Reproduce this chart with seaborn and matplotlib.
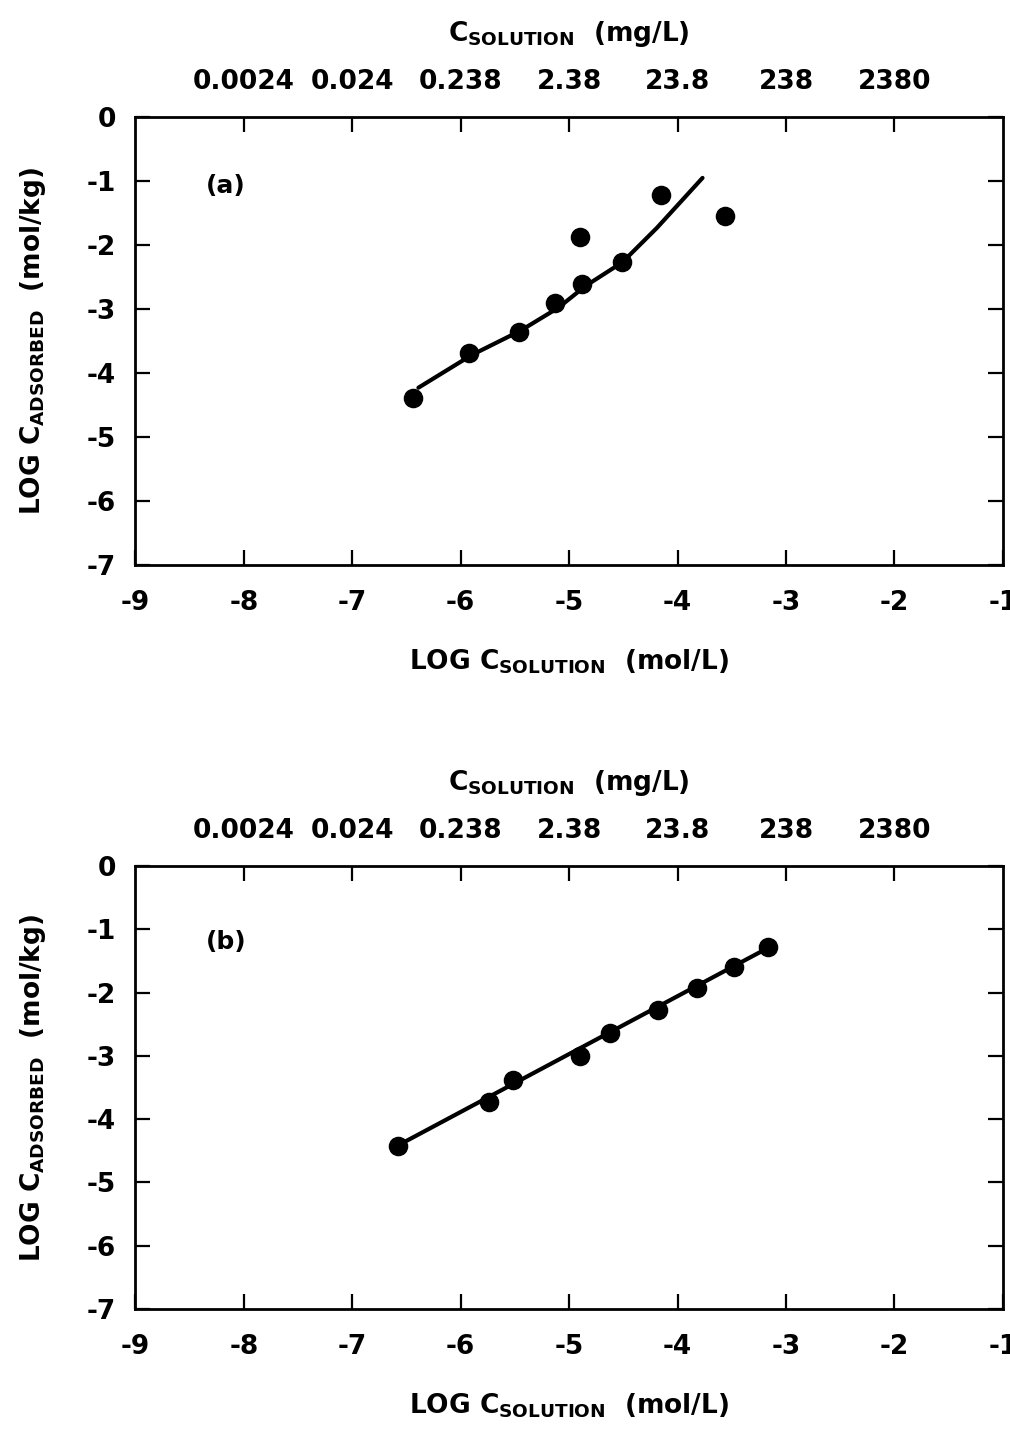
import matplotlib
matplotlib.use("Agg")
import matplotlib.pyplot as plt
import seaborn as sns
import pandas as pd

# ---- data ----
xticks = [-9, -8, -7, -6, -5, -4, -3, -2, -1]
yticks = [0, -1, -2, -3, -4, -5, -6, -7]
top_tick_pos = [-8, -7, -6, -5, -4, -3, -2]
top_tick_labels = ["0.0024", "0.024", "0.238", "2.38", "23.8", "238", "2380"]

a_x = [-6.44, -5.92, -5.46, -5.13, -4.88, -4.90, -4.51, -4.15, -3.56]
a_y = [-4.39, -3.69, -3.36, -2.91, -2.61, -1.875, -2.27, -1.22, -1.55]
fit_a_x = [-6.39, -5.90, -5.45, -5.10, -4.85, -4.51, -4.19, -3.77]
fit_a_y = [-4.23, -3.72, -3.34, -2.98, -2.64, -2.27, -1.73, -0.95]

b_x = [-6.58, -5.74, -5.52, -4.90, -4.62, -4.18, -3.82, -3.48, -3.17]
b_y = [-4.42, -3.73, -3.38, -3.00, -2.64, -2.27, -1.93, -1.60, -1.28]
fit_b_x = [-6.55, -3.15]
fit_b_y = [-4.39, -1.28]

sns.set_style("ticks")
plt.rcParams['font.family'] = ['DejaVu Sans']
plt.rcParams['font.weight'] = 'bold'
plt.rcParams['mathtext.fontset'] = 'dejavusans'
plt.rcParams['text.color'] = 'black'
plt.rcParams['axes.labelcolor'] = 'black'
plt.rcParams['xtick.color'] = 'black'
plt.rcParams['ytick.color'] = 'black'

fig = plt.figure(figsize=(10.10, 14.32), dpi=100)
axA = fig.add_axes([0.134, 0.6055, 0.859, 0.3127])
axB = fig.add_axes([0.134, 0.0859, 0.859, 0.3094])

xlab = r"LOG C$_{\mathbf{SOLUTION}}$  (mol/L)"
ylab = r"LOG C$_{\mathbf{ADSORBED}}$  (mol/kg)"
toplab = r"C$_{\mathbf{SOLUTION}}$  (mg/L)"

def style(ax, panel):
    ax.set_xlim(-9, -1)
    ax.set_ylim(-7, 0)
    ax.set_xticks(xticks)
    ax.set_xticklabels([str(t) for t in xticks])
    ax.set_yticks(yticks)
    ax.set_yticklabels([str(t) for t in yticks])
    for s in ax.spines.values():
        s.set_linewidth(2.0)
        s.set_color('black')
        s.set_visible(True)
    ax.tick_params(axis='both', direction='in', length=11, width=1.6,
                   labelsize=19, top=False, right=True, colors='black')
    ax.tick_params(axis='x', pad=18)
    ax.tick_params(axis='y', pad=14)
    for lbl in ax.get_xticklabels() + ax.get_yticklabels():
        lbl.set_fontweight('bold')
    ax.set_xlabel(xlab, fontsize=19, fontweight='bold', labelpad=23, color='black')
    ax.set_ylabel(ylab, fontsize=19, fontweight='bold', labelpad=28, color='black')
    ax.text(-8.35, -1.07 if panel == '(a)' else -1.2, panel, fontsize=18,
            fontweight='bold', va='center', ha='left', color='black')
    top = ax.twiny()
    top.set_xlim(ax.get_xlim())
    top.set_xticks(top_tick_pos)
    top.set_xticklabels(top_tick_labels, fontsize=19, fontweight='bold')
    top.tick_params(axis='x', direction='in', length=11, width=1.6, pad=16, colors='black')
    top.set_xlabel(toplab, fontsize=19, fontweight='bold', labelpad=20, color='black')
    for s in top.spines.values():
        s.set_visible(False)
    ax.set_facecolor('white')

dfa = pd.DataFrame({'x': a_x, 'y': a_y})
dffa = pd.DataFrame({'x': fit_a_x, 'y': fit_a_y})
dfb = pd.DataFrame({'x': b_x, 'y': b_y})
dffb = pd.DataFrame({'x': fit_b_x, 'y': fit_b_y})

sns.lineplot(data=dffa, x='x', y='y', ax=axA, color='black', linewidth=3.0, sort=False)
sns.scatterplot(data=dfa, x='x', y='y', ax=axA, color='black', s=170, edgecolor='black', zorder=5)
sns.lineplot(data=dffb, x='x', y='y', ax=axB, color='black', linewidth=3.0, sort=False)
sns.scatterplot(data=dfb, x='x', y='y', ax=axB, color='black', s=170, edgecolor='black', zorder=5)

style(axA, '(a)')
style(axB, '(b)')

fig.savefig("out.png", dpi=100, facecolor='white')
